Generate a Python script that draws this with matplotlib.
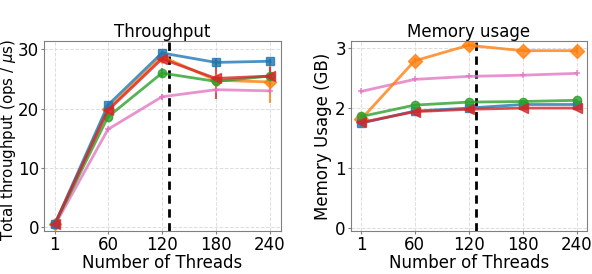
import numpy as np
from matplotlib import pyplot as plt

threads = [1, 60, 120, 180, 240]

# throughput (ops / us)
tp_blue = [0.5, 20.6, 29.4, 27.8, 28.0]
tp_orange = [0.5, 20.0, 28.8, 24.8, 24.5]
tp_green = [0.5, 18.6, 26.0, 24.6, 25.5]
tp_red = [0.5, 19.7, 28.4, 25.1, 25.5]
tp_pink = [0.3, 16.5, 22.0, 23.2, 23.0]
tp_err_blue = [0.2, 0.3, 0.4, 0.4, 0.4]
tp_err_orange = [0.2, 0.3, 0.5, 0.6, 3.5]
tp_err_green = [0.2, 0.3, 0.8, 0.4, 0.4]
tp_err_red = [0.2, 0.3, 0.6, 3.5, 1.5]
tp_err_pink = [0.1, 0.2, 0.5, 0.3, 0.3]

# memory usage (GB)
mem_blue = [1.75, 1.95, 2.00, 2.06, 2.06]
mem_orange = [1.82, 2.79, 3.05, 2.96, 2.96]
mem_green = [1.86, 2.05, 2.10, 2.11, 2.13]
mem_red = [1.76, 1.94, 1.98, 2.00, 2.00]
mem_pink = [2.28, 2.48, 2.53, 2.55, 2.58]
mem_err_orange = [0.02, 0.04, 0.03, 0.03, 0.06]

cut = 128

fig = plt.figure(figsize=(5.92, 2.74), dpi=100)
ax1 = fig.add_axes([0.0743, 0.158, 0.400, 0.692])
ax2 = fig.add_axes([0.5924, 0.158, 0.3997, 0.692])


def draw_series(ax, y, err, color, marker, ms, mew=1.0):
    ax.errorbar(threads, y, yerr=err, color=color, marker=marker, markersize=ms,
                markeredgewidth=mew, linewidth=2, alpha=0.8, elinewidth=1.5, capsize=0)


draw_series(ax1, tp_pink, tp_err_pink, 'tab:pink', '+', 5, 1.2)
draw_series(ax1, tp_orange, tp_err_orange, 'tab:orange', 'D', 6)
draw_series(ax1, tp_green, tp_err_green, 'tab:green', 'o', 6)
draw_series(ax1, tp_blue, tp_err_blue, 'tab:blue', 's', 6)
draw_series(ax1, tp_red, tp_err_red, 'tab:red', '<', 7)

draw_series(ax2, mem_pink, None, 'tab:pink', '+', 5, 1.2)
draw_series(ax2, mem_orange, mem_err_orange, 'tab:orange', 'D', 7)
draw_series(ax2, mem_blue, None, 'tab:blue', 's', 6)
draw_series(ax2, mem_green, None, 'tab:green', 'o', 6)
draw_series(ax2, mem_red, None, 'tab:red', '<', 7)

for ax in (ax1, ax2):
    ax.axvline(cut, color='black', linestyle=(0, (3, 2)), linewidth=2)
    ax.set_xticks(threads)
    ax.set_xlim(-11, 252)
    ax.grid(True, linestyle='--', color='#dddddd', linewidth=0.7)
    ax.set_axisbelow(True)
    for s in ax.spines.values():
        s.set_color('#808080')
    ax.tick_params(labelsize=12, length=2.5, pad=1.5, color='#808080')
    ax.tick_params(axis='y', pad=1)
    ax.set_xlabel('Number of Threads', fontsize=12, labelpad=0)

ax1.set_ylim(-0.6, 31.4)
ax1.set_yticks([0, 10, 20, 30])
ax1.set_ylabel('Total throughput (ops / $\\mu$s)', fontsize=10.8)
ax1.yaxis.set_label_coords(-0.111, 0.48)
ax1.set_title('Throughput', fontsize=12, pad=2)

ax2.set_ylim(-0.05, 3.12)
ax2.set_yticks([0, 1, 2, 3])
ax2.set_ylabel('Memory Usage (GB)', fontsize=12)
ax2.yaxis.set_label_coords(-0.079, 0.5)
ax2.set_title('Memory usage', fontsize=12, pad=2)

fig.savefig('out.png', dpi=100)
